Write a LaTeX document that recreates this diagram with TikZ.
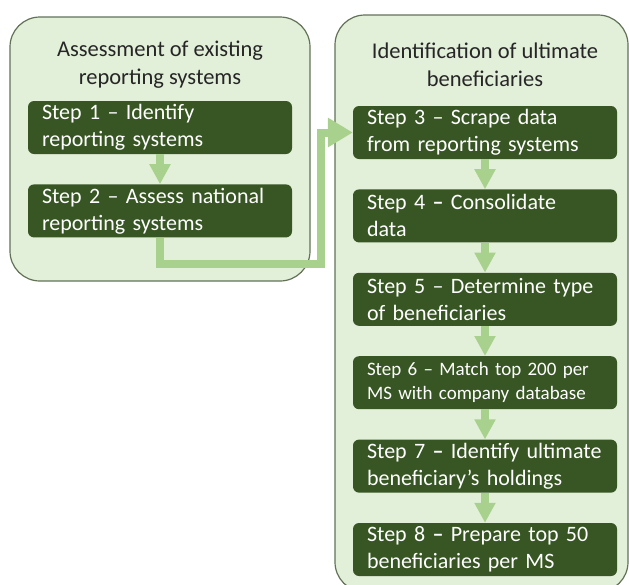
\documentclass[tikz,border=0pt]{standalone}
\usepackage{fontspec}
\setmainfont{Carlito}
\usetikzlibrary{positioning,arrows.meta}
\definecolor{panelfill}{HTML}{E2EFD9}
\definecolor{paneldraw}{HTML}{627257}
\definecolor{stepfill}{HTML}{375623}
\definecolor{flowgreen}{HTML}{A9D18E}
\tikzset{
node distance = 30pt,
   panel/.style = {%
    draw=paneldraw,
    line width=1.2pt,
    fill=panelfill,
    rounded corners=30pt},
   title/.style = {%
    align=center,
    text=black!85,
    font=\fontsize{22.5}{28}\selectfont},
 stepbox/.style = {%
    shape=rectangle,
    rounded corners=6pt,
    fill=stepfill,
    text=white,
    align=left,
    text width=236pt,
    inner xsep=14pt,
    inner ysep=2pt,
    minimum height=53pt,
    font=\fontsize{22}{27}\selectfont},
    flow/.style = {%
    draw=flowgreen,
    line width=8pt,% <-- arrow shaft
    -{Triangle[length=20pt,width=20pt]}},
    }

\begin{document}
\begin{tikzpicture}[x=1pt,y=-1pt]
\useasboundingbox (0,0) rectangle (629,584);
% the two panels
\draw[panel] (10,17) rectangle (310,281);
\draw[panel] (335,15) rectangle (628,592);
\node[title] (t1) at (160,65) {Assessment of existing\\reporting systems};
\node[title] (t2) at (485,65) {Identification of ultimate\\beneficiaries};
% left column
\node[stepbox] (s1) at (160,127.5) {Step 1 -- Identify\\reporting systems};
\node[stepbox, below=of s1] (s2) {Step 2 -- Assess national\\reporting systems};
% right column
\node[stepbox] (s3) at (485,132.5) {Step 3 -- Scrape data\\from reporting systems};
\node[stepbox, below=of s3] (s4) {Step 4 \textbf{--} Consolidate\\data};
\node[stepbox, below=of s4] (s5) {Step 5 -- Determine type\\of beneficiaries};
\node[stepbox, below=of s5, font=\fontsize{19}{24}\selectfont] (s6) {Step 6 -- Match top 200 per\\MS with company database};
\node[stepbox, below=of s6] (s7) {Step 7 \textbf{--} Identify ultimate\\beneficiary’s holdings};
\node[stepbox, below=of s7] (s8) {Step 8 \textbf{--} Prepare top 50\\beneficiaries per MS};
% arrows
\draw[flow] (s1.south) -- (s2.north);
\foreach \a/\b in {s3/s4,s4/s5,s5/s6,s6/s7,s7/s8}
    \draw[flow] (\a.south) -- (\b.north);
\coordinate (bend) at (321,264);
\draw[flow, -{Triangle[length=25pt,width=28pt]}] (s2.south) |- (bend) |- (s3.west);
\end{tikzpicture}
\end{document}
